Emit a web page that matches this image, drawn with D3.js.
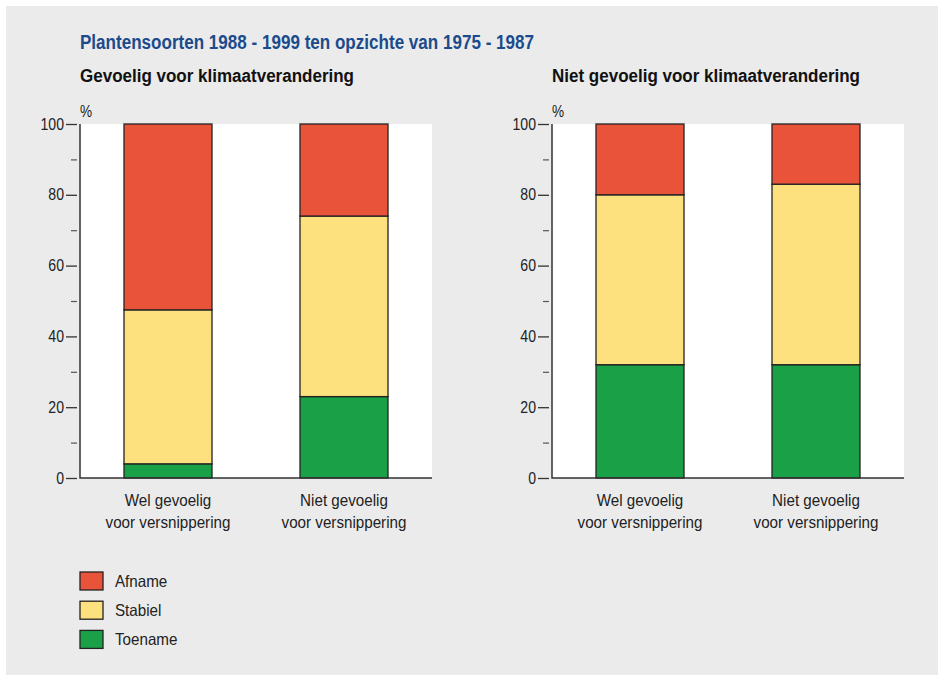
<!DOCTYPE html>
<html>
<head>
<meta charset="utf-8">
<script src="https://cdn.jsdelivr.net/npm/d3@7"></script>
<style>
  body { margin: 0; background: #fff; }
  text { font-family: "Liberation Sans", Arial, sans-serif; }
</style>
</head>
<body>
<svg id="chart" width="938" height="675"></svg>
<script>
const title = "Plantensoorten 1988 - 1999 ten opzichte van 1975 - 1987";
const panels = ["Gevoelig voor klimaatverandering", "Niet gevoelig voor klimaatverandering"];
const categories = [["Wel gevoelig", "voor versnippering"], ["Niet gevoelig", "voor versnippering"]];
const series = ["Toename", "Stabiel", "Afname"];
const colors = ["#1aa147", "#fee17f", "#e8533a"];
// one row per panel, one value per category
const toename = [[4, 23], [32, 32]];
const stabiel = [[43.5, 51], [48, 51]];
const afname = [[52.5, 26], [20, 17]];
const majorTicks = [0, 20, 40, 60, 80, 100];
const minorTicks = [10, 30, 50, 70, 90];

const svg = d3.select("#chart");

// the original uses a narrow font, so squeeze the text to its measured width
function squeeze(sel, factor) {
  sel.each(function () {
    const w = this.getComputedTextLength();
    d3.select(this).attr("textLength", w * factor).attr("lengthAdjust", "spacingAndGlyphs");
  });
}

svg.append("rect")
  .attr("x", 6).attr("y", 6)
  .attr("width", 932).attr("height", 669)
  .attr("fill", "#ebebeb");

svg.append("text")
  .attr("x", 80).attr("y", 49)
  .attr("fill", "#1b4b8c")
  .attr("font-weight", "bold")
  .attr("font-size", 20)
  .attr("textLength", 454)
  .attr("lengthAdjust", "spacingAndGlyphs")
  .text(title);

const y = d3.scaleLinear().domain([0, 100]).range([478, 124]);
const panelX = [80, 552];
const panelW = 352;
const subWidth = [274, 308];

panels.forEach((name, p) => {
  const x0 = panelX[p];
  const g = svg.append("g");

  g.append("text")
    .attr("x", x0).attr("y", 82)
    .attr("font-weight", "bold")
    .attr("font-size", 17.5)
    .attr("fill", "#111")
    .attr("textLength", subWidth[p])
    .attr("lengthAdjust", "spacingAndGlyphs")
    .text(name);

  g.append("text")
    .attr("x", x0).attr("y", 117)
    .attr("font-size", 16)
    .attr("fill", "#222")
    .text("%")
    .call(squeeze, 0.85);

  g.append("rect")
    .attr("x", x0).attr("y", y(100))
    .attr("width", panelW).attr("height", y(0) - y(100))
    .attr("fill", "#fff");

  const x = d3.scaleBand()
    .domain(categories.map((c, i) => i))
    .range([x0, x0 + panelW])
    .paddingInner(0.5)
    .paddingOuter(0.25);

  const rows = categories.map((c, i) => ({
    Toename: toename[p][i], Stabiel: stabiel[p][i], Afname: afname[p][i], i
  }));
  const stacked = d3.stack().keys(series)(rows);

  g.selectAll(".layer")
    .data(stacked)
    .join("g")
    .attr("fill", (d, k) => colors[k])
    .selectAll("rect")
    .data((d) => d)
    .join("rect")
    .attr("x", (d) => x(d.data.i))
    .attr("y", (d) => y(d[1]))
    .attr("width", x.bandwidth())
    .attr("height", (d) => y(d[0]) - y(d[1]))
    .attr("stroke", "#222")
    .attr("stroke-width", 1.3);

  // ticks sit a little left of the axis line
  const major = d3.axisLeft(y).tickValues(majorTicks).tickSize(11).tickPadding(2);
  const minor = d3.axisLeft(y).tickValues(minorTicks).tickSize(6).tickFormat("");
  g.append("g").attr("transform", `translate(${x0 - 3},0)`).call(major)
    .call((a) => a.select(".domain").remove())
    .call((a) => a.selectAll("line").attr("stroke", "#333").attr("stroke-width", 1.3))
    .call((a) => a.selectAll("text").attr("font-size", 16).attr("fill", "#222")
      .attr("font-family", null).call(squeeze, 0.88));
  g.append("g").attr("transform", `translate(${x0 - 3},0)`).call(minor)
    .call((a) => a.select(".domain").remove())
    .call((a) => a.selectAll("line").attr("stroke", "#555").attr("stroke-width", 1.2));

  g.append("path")
    .attr("d", `M${x0},${y(100)}V${y(0)}H${x0 + panelW}`)
    .attr("fill", "none")
    .attr("stroke", "#333")
    .attr("stroke-width", 1.5);

  categories.forEach((lines, i) => {
    lines.forEach((l, j) => {
      g.append("text")
        .attr("x", x(i) + x.bandwidth() / 2)
        .attr("y", 506 + j * 21.5)
        .attr("text-anchor", "middle")
        .attr("font-size", 16.5)
        .attr("fill", "#222")
        .text(l)
        .call(squeeze, 0.92);
    });
  });
});

const legend = svg.append("g").attr("transform", "translate(80,572)");
const legendOrder = [2, 1, 0];
legendOrder.forEach((k, j) => {
  legend.append("rect")
    .attr("x", 0).attr("y", j * 29.2)
    .attr("width", 23).attr("height", 18)
    .attr("fill", colors[k])
    .attr("stroke", "#222")
    .attr("stroke-width", 1.3);
  legend.append("text")
    .attr("x", 35).attr("y", j * 29.2 + 14.5)
    .attr("font-size", 16.5)
    .attr("fill", "#222")
    .text(series[k])
    .call(squeeze, 0.92);
});
</script>
</body>
</html>
